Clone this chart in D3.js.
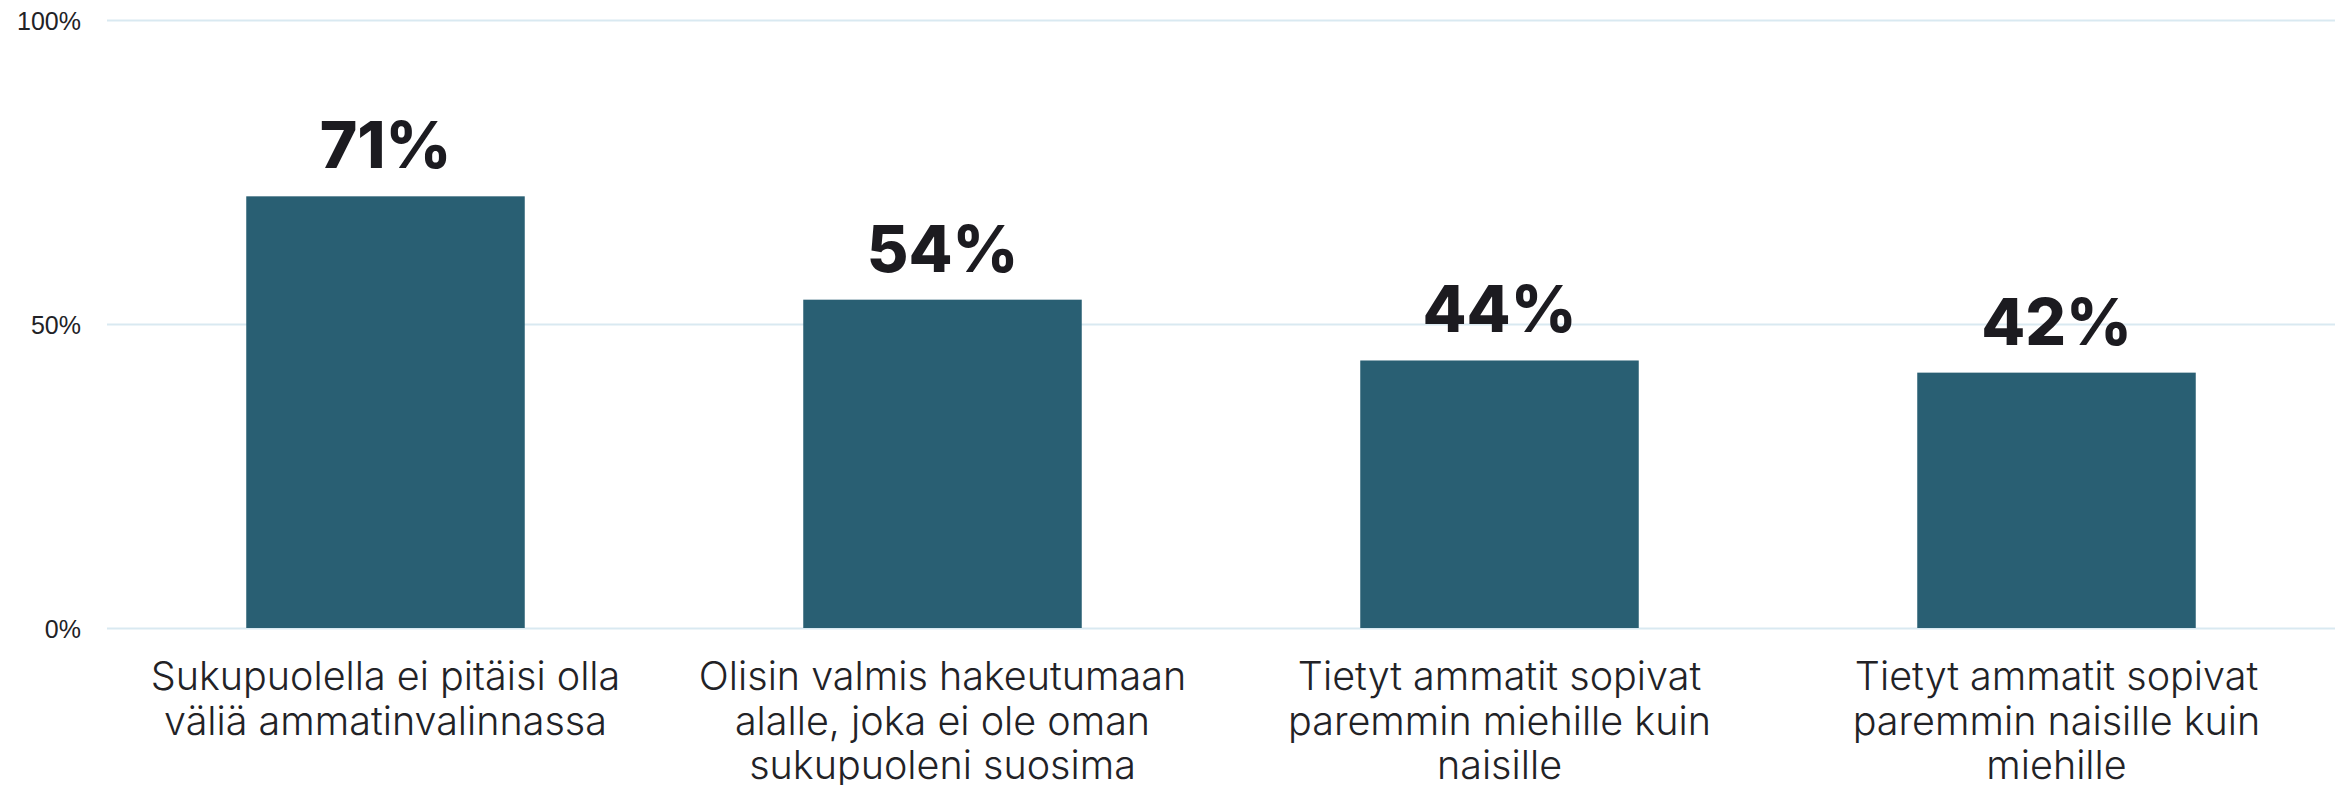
<!DOCTYPE html>
<html>
<head>
<meta charset="utf-8">
<script src="https://cdn.jsdelivr.net/npm/d3@7"></script>
<style>
    body { margin: 0; background: #fff; }
    svg { display: block; font-family: "Inter", "Open Sans", sans-serif; }
</style>
</head>
<body>
<script>
const categories = [
    "Sukupuolella ei pitäisi olla\nväliä ammatinvalinnassa",
    "Olisin valmis hakeutumaan\nalalle, joka ei ole oman\nsukupuoleni suosima",
    "Tietyt ammatit sopivat\nparemmin miehille kuin\nnaisille",
    "Tietyt ammatit sopivat\nparemmin naisille kuin\nmiehille"
];
const values = [71, 54, 44, 42];
const yTicks = [0, 50, 100];

const margin = {left : 107, top : 20, right : 11, bottom : 157};
const width = 2346 - margin.left - margin.right;
const height = 785 - margin.top - margin.bottom;

// Scales
const x = d3.scaleBand()
            .domain(categories)
            .range([0, width])
            .paddingInner(0.5)
            .paddingOuter(0.25);

const y = d3.scaleLinear()
            .domain([0, 100])
            .range([height, 0]);

const svg = d3.select("body").append("svg")
            .attr('width', 2346)
            .attr('height', 785);

const g = svg.append("g")
            .attr('transform', `translate(${margin.left}, ${margin.top})`);

// Grid + y labels
const yAxis = g.append("g")
    .attr('class', 'y axis')
    .call(d3.axisLeft(y).tickValues(yTicks).tickSizeInner(-width).tickSizeOuter(0)
            .tickPadding(26).tickFormat((d) => {return d + "%"}));
yAxis.select(".domain").remove();
yAxis.selectAll("line")
    .style("stroke", "#d9e9f1")
    .style("stroke-width", 2);
yAxis.selectAll("text")
    .style("fill", "#222226")
    .style("font-size", "25px")
    .style("font-weight", 300)
    .attr("dy", "0.36em");

// Bars
g.selectAll("rect.bar").data(values)
    .enter().append("rect")
        .attr('class', 'bar')
        .attr('x', (d, i) => {return x(categories[i])})
        .attr('y', (d) => {return y(d)})
        .attr('width', x.bandwidth())
        .attr('height', (d) => {return height - y(d)})
        .attr('fill', '#295f73');

// Value labels
g.selectAll("text.value").data(values)
    .enter().append("text")
        .attr('class', 'value')
        .attr('x', (d, i) => {return x(categories[i]) + x.bandwidth() / 2})
        .attr('y', (d) => {return y(d) - 28})
        .attr('text-anchor', 'middle')
        .style('font-size', '64px')
        .style('font-weight', 800)
        .style('fill', '#1c1b20')
        .text((d) => {return d + "%"});

// Category labels
const labels = g.selectAll("text.cat").data(categories)
    .enter().append("text")
        .attr('class', 'cat')
        .attr('text-anchor', 'middle')
        .style('font-size', '39.5px')
        .style('font-weight', 300)
        .style('fill', '#222226');
labels.each(function(d) {
    const t = d3.select(this);
    d.split("\n").forEach((line, i) => {
        t.append("tspan")
            .attr('x', x(d) + x.bandwidth() / 2)
            .attr('y', height + 62 + i * 44.5)
            .text(line);
    });
});
</script>
</body>
</html>
